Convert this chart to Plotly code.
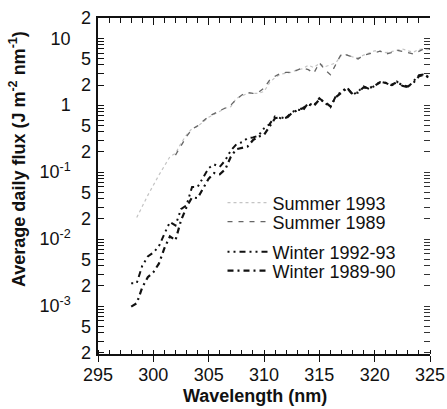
import plotly.graph_objects as go

# ---------------- data ----------------
wl_summer93 = [298.5, 299.5, 300.5, 301.5, 302, 302.5, 303, 303.5, 304, 304.5, 305, 305.5,
               306, 306.5, 307, 307.5, 308, 308.5, 309, 309.5, 310, 310.5, 311, 311.5,
               312, 312.5, 313, 313.5, 314, 314.5, 315, 315.5, 316, 316.5, 317, 317.5,
               318, 318.5, 319, 319.5, 320, 320.5, 321, 321.5, 322, 322.5, 323, 323.5,
               324, 324.5, 325]
flux_summer93 = [0.021, 0.045, 0.09, 0.17, 0.19, 0.27, 0.36, 0.45, 0.48, 0.56, 0.66, 0.73,
                 0.80, 0.90, 0.95, 1.27, 1.37, 1.5, 1.5, 1.5, 1.6, 2.15, 2.6, 2.9,
                 3.0, 3.1, 3.4, 3.5, 3.95, 3.65, 4.2, 3.75, 4.0, 4.3, 5.6, 5.7,
                 5.25, 5.1, 5.6, 6.0, 6.5, 6.4, 6.1, 6.3, 6.6, 6.9, 6.5, 6.2,
                 6.8, 6.9, 6.6]

wl_summer89 = [302, 302.5, 303, 303.5, 304, 304.5, 305, 305.5, 306, 306.5,
               307, 307.5, 308, 308.5, 309, 309.5, 310, 310.5, 311, 311.5,
               312, 312.5, 313, 313.5, 314, 314.5, 315, 315.5, 316, 316.5,
               317, 317.5, 318, 318.5, 319, 319.5, 320, 320.5, 321, 321.5,
               322, 322.5, 323, 323.5, 324, 324.5, 325]
flux_summer89 = [0.18, 0.25, 0.34, 0.44, 0.49, 0.58, 0.68, 0.75, 0.83, 0.90,
                 1.0, 1.22, 1.42, 1.55, 1.5, 1.55, 1.8, 2.35, 2.7, 3.0,
                 3.1, 3.1, 3.3, 3.6, 3.4, 3.0, 4.3, 3.4, 2.85, 4.2,
                 5.9, 5.6, 5.2, 4.9, 5.6, 5.9, 6.1, 6.4, 5.8, 6.1,
                 6.6, 6.4, 6.1, 5.8, 6.4, 7.0, 6.8]

wl_winter = [298, 298.5, 299, 299.5, 300, 300.5, 301, 301.5, 302, 302.5,
             303, 303.5, 304, 304.5, 305, 305.5, 306, 306.5, 307, 307.5,
             308, 308.5, 309, 309.5, 310, 310.5, 311, 311.5, 312, 312.5,
             313, 313.5, 314, 314.5, 315, 315.5, 316, 316.5, 317, 317.5,
             318, 318.5, 319, 319.5, 320, 320.5, 321, 321.5, 322, 322.5,
             323, 323.5, 324, 324.5, 325]
flux_winter9293 = [0.0022, 0.0022, 0.0040, 0.0055, 0.0063, 0.0078, 0.012, 0.018, 0.016, 0.028,
                   0.032, 0.060, 0.060, 0.082, 0.115, 0.13, 0.12, 0.15, 0.21, 0.26,
                   0.28, 0.32, 0.33, 0.35, 0.45, 0.52, 0.68, 0.64, 0.65, 0.78,
                   0.86, 0.83, 1.08, 0.98, 1.27, 1.08, 0.93, 1.37, 1.6, 1.85,
                   1.42, 1.6, 1.9, 1.75, 1.95, 2.25, 2.15, 1.95, 2.25, 1.95,
                   1.85, 2.25, 2.8, 2.9, 2.45]
flux_winter8990 = [0.00098, 0.0011, 0.0019, 0.0027, 0.0032, 0.0043, 0.0073, 0.011, 0.0096, 0.019,
                   0.030, 0.042, 0.041, 0.057, 0.080, 0.097, 0.093, 0.11, 0.17, 0.22,
                   0.23, 0.24, 0.30, 0.34, 0.36, 0.48, 0.64, 0.66, 0.63, 0.76,
                   0.84, 0.90, 1.02, 0.97, 1.22, 1.12, 0.96, 1.32, 1.55, 1.8,
                   1.47, 1.55, 1.85, 1.8, 1.95, 2.2, 2.15, 2.0, 2.2, 2.0,
                   1.9, 2.15, 2.7, 2.85, 2.55]

x_tickvals = [295, 300, 305, 310, 315, 320, 325]
x_ticktext = ["295", "300", "305", "310", "315", "320", "325"]

y_decade_vals = [0.001, 0.01, 0.1, 1, 10]
y_decade_text = ["10<sup>-3</sup>", "10<sup>-2</sup>", "10<sup>-1</sup>", "1", "10"]
y_minor_label_vals = [0.0002, 0.0005, 0.002, 0.005, 0.02, 0.05, 0.2, 0.5, 2, 5, 20]
y_minor_label_text = ["2", "5", "2", "5", "2", "5", "2", "5", "2", "5", "2"]
y_mantissas = [2, 3, 4, 5, 6, 7, 8, 9]
y_tick_decades = [0.0001, 0.001, 0.01, 0.1, 1, 10]

y_title = "<b>Average daily flux (J m<sup>-2</sup> nm<sup>-1</sup>)</b>"
x_title = "<b>Wavelength (nm)</b>"

# ---------------- figure ----------------
FONT = "Liberation Sans, Arial, Helvetica, sans-serif"
minor_ticks = [m * d for d in y_tick_decades for m in y_mantissas if 0.00019 <= m * d <= 20.5]
yrange = [-3.716, 1.302]

fig = go.Figure()

fig.add_trace(go.Scatter(x=wl_summer93, y=flux_summer93, mode="lines", name="Summer 1993",
                         line=dict(color="#c4c4c4", width=1.2, dash="dot"), legend="legend"))
fig.add_trace(go.Scatter(x=wl_summer89, y=flux_summer89, mode="lines", name="Summer 1989",
                         line=dict(color="#666666", width=1.3, dash="5px,6px"), legend="legend2"))
fig.add_trace(go.Scatter(x=wl_winter, y=flux_winter9293, mode="lines", name="Winter 1992-93",
                         line=dict(color="#111111", width=2, dash="2px,4px,2px,4px,6px,4px"),
                         legend="legend3"))
fig.add_trace(go.Scatter(x=wl_winter, y=flux_winter8990, mode="lines", name="Winter 1989-90",
                         line=dict(color="#111111", width=2.2, dash="6px,4px,2px,4px"),
                         legend="legend4"))

# invisible helper traces so the mirror axes are drawn
fig.add_trace(go.Scatter(x=[310], y=[1], xaxis="x2", yaxis="y2", mode="markers",
                         marker=dict(opacity=0), showlegend=False, hoverinfo="skip"))
fig.add_trace(go.Scatter(x=[310], y=[1], xaxis="x", yaxis="y3", mode="markers",
                         marker=dict(opacity=0), showlegend=False, hoverinfo="skip"))

legend_common = dict(font=dict(family=FONT, size=18, color="#111"), bgcolor="rgba(0,0,0,0)",
                     xanchor="left", yanchor="middle", borderwidth=0, itemwidth=40)
plot_left, plot_w = 98, 332
plot_top, plot_h = 18, 336


def lx(px):
    return (px - plot_left) / plot_w


def ly(py):
    return (plot_top + plot_h - py) / plot_h


fig.update_layout(
    width=447, height=409,
    margin=dict(l=98, r=17, t=18, b=55, autoexpand=False),
    paper_bgcolor="white", plot_bgcolor="white",
    font=dict(family=FONT, size=18, color="#111"),
    legend=dict(x=0.375, y=ly(203), **legend_common),
    legend2=dict(x=0.375, y=ly(222), **legend_common),
    legend3=dict(x=0.375, y=ly(252), **legend_common),
    legend4=dict(x=0.375, y=ly(271), **legend_common),
    xaxis=dict(range=[295, 325], tickvals=x_tickvals, ticktext=x_ticktext, automargin=False,
               ticks="outside", ticklen=6, tickwidth=1.3, tickcolor="#111",
               minor=dict(ticks="inside", dtick=1, ticklen=4, tickwidth=1.2, tickcolor="#111"),
               showline=True, linecolor="#111", linewidth=1.5, showgrid=False, zeroline=False,
               tickfont=dict(size=18), ticklabelstandoff=-2),
    xaxis2=dict(range=[295, 325], overlaying="x", side="top", anchor="y2", automargin=False,
                tickvals=x_tickvals, ticks="inside", ticklen=7, tickwidth=1.3, tickcolor="#111",
                minor=dict(ticks="inside", dtick=1, ticklen=5, tickwidth=1.2, tickcolor="#111"),
                showticklabels=False, showline=True, linecolor="#111", linewidth=1.5,
                showgrid=False, zeroline=False),
    yaxis=dict(type="log", range=yrange, tickvals=y_decade_vals, ticktext=y_decade_text,
               automargin=False,
               ticks="inside", ticklen=6, tickwidth=1.2, tickcolor="#111",
               minor=dict(tickvals=minor_ticks, ticks="inside", ticklen=6, tickwidth=1.2,
                          tickcolor="#111", showgrid=False),
               showline=True, linecolor="#111", linewidth=1.5, showgrid=False, zeroline=False,
               tickfont=dict(size=18), ticklabelstandoff=22),
    yaxis2=dict(type="log", range=yrange, overlaying="y", side="right", anchor="x2",
                automargin=False,
                tickvals=y_decade_vals, ticks="inside", ticklen=6, tickwidth=1.2, tickcolor="#333",
                minor=dict(tickvals=minor_ticks, ticks="inside", ticklen=6, tickwidth=1.2,
                           tickcolor="#333", showgrid=False),
                showticklabels=False, showline=False, showgrid=False, zeroline=False),
    yaxis3=dict(type="log", range=yrange, overlaying="y", side="left", anchor="x",
                automargin=False,
                tickvals=y_minor_label_vals, ticktext=y_minor_label_text, ticks="",
                showline=False, showgrid=False, zeroline=False,
                tickfont=dict(size=18), ticklabelstandoff=6),
    annotations=[
        dict(text=y_title, textangle=-90, xref="paper", yref="paper",
             x=lx(18), y=ly(159), xanchor="center", yanchor="middle",
             showarrow=False, font=dict(size=18, color="#111")),
        dict(text=x_title, xref="paper", yref="paper",
             x=lx(255), y=ly(396), xanchor="center", yanchor="middle",
             showarrow=False, font=dict(size=18, color="#111")),
    ],
)

fig.write_html("out.html")
